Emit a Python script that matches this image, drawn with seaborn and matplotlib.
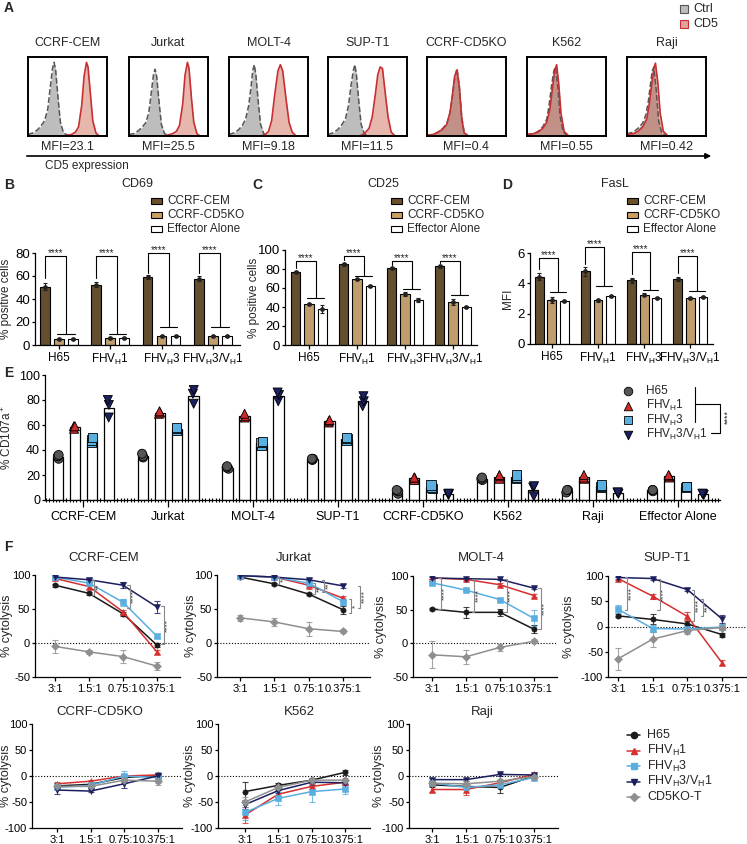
import matplotlib
matplotlib.use("Agg")
import matplotlib.pyplot as plt
from matplotlib.patches import Rectangle
from matplotlib.ticker import MultipleLocator
import seaborn as sns
import numpy as np
import pandas as pd

# ---------------- A: CD5 histograms ----------------
hist_cells = ["CCRF-CEM", "Jurkat", "MOLT-4", "SUP-T1", "CCRF-CD5KO", "K562", "Raji"]
hist_mfi = ["23.1", "25.5", "9.18", "11.5", "0.4", "0.55", "0.42"]
# traced outlines: x = fraction of box width, y = normalised count
hist_ctrl = {
    "CCRF-CEM": ([0, .06, .12, .17, .21, .25, .28, .31, .33, .35, .38, .41, .45, .52, 1],
                 [.02, .04, .08, .14, .2, .35, .62, .88, .96, .86, .5, .18, .04, 0, 0]),
    "Jurkat": ([0, .06, .12, .17, .21, .25, .28, .31, .33, .35, .38, .41, .45, .52, 1],
               [.02, .03, .07, .12, .17, .3, .55, .8, .87, .78, .45, .15, .03, 0, 0]),
    "MOLT-4": ([0, .06, .12, .17, .21, .25, .28, .3, .32, .34, .37, .4, .44, .5, 1],
               [.02, .04, .08, .14, .22, .4, .65, .85, .93, .8, .45, .15, .03, 0, 0]),
    "SUP-T1": ([0, .06, .12, .17, .22, .26, .29, .32, .34, .36, .39, .42, .46, .52, 1],
               [.02, .04, .08, .14, .22, .4, .65, .85, .93, .8, .45, .15, .03, 0, 0]),
    "CCRF-CD5KO": ([0, .08, .14, .2, .25, .29, .32, .35, .38, .41, .44, .47, .52, 1],
                   [.01, .02, .05, .1, .16, .3, .5, .75, .88, .65, .25, .05, 0, 0]),
    "K562": ([0, .08, .14, .2, .25, .28, .31, .34, .36, .39, .42, .46, .52, 1],
             [.02, .03, .06, .12, .22, .4, .65, .85, .9, .65, .25, .05, 0, 0]),
    "Raji": ([0, .08, .14, .2, .24, .27, .3, .32, .34, .37, .4, .44, .5, 1],
             [.03, .05, .1, .17, .28, .45, .7, .85, .9, .6, .2, .04, 0, 0]),
}
hist_cd5 = {
    "CCRF-CEM": ([0, .45, .55, .6, .64, .68, .71, .74, .76, .79, .82, .86, .9, 1],
                 [0, 0, .02, .05, .12, .4, .78, .96, .9, .55, .2, .04, 0, 0]),
    "Jurkat": ([0, .45, .55, .6, .64, .68, .71, .74, .76, .79, .82, .86, .9, 1],
               [0, 0, .03, .06, .14, .42, .8, .96, .88, .5, .18, .03, 0, 0]),
    "MOLT-4": ([0, .4, .46, .5, .54, .58, .62, .65, .68, .72, .76, .8, .85, 1],
               [0, 0, .02, .06, .2, .55, .85, .93, .85, .5, .18, .05, 0, 0]),
    "SUP-T1": ([0, .4, .46, .52, .56, .6, .63, .66, .69, .72, .76, .8, .85, 1],
               [0, 0, .03, .1, .25, .55, .8, .9, .88, .6, .25, .05, 0, 0]),
    "CCRF-CD5KO": ([0, .08, .14, .2, .25, .29, .32, .35, .38, .41, .44, .47, .52, 1],
                   [.01, .02, .05, .09, .15, .3, .52, .78, .86, .62, .22, .04, 0, 0]),
    "K562": ([0, .08, .14, .2, .25, .29, .32, .35, .375, .4, .43, .47, .53, 1],
             [.02, .03, .05, .1, .18, .35, .6, .85, .93, .7, .3, .06, 0, 0]),
    "Raji": ([0, .08, .14, .2, .25, .28, .31, .34, .36, .39, .42, .46, .52, 1],
             [.02, .03, .06, .12, .22, .4, .65, .88, .95, .7, .3, .06, 0, 0]),
}

# ---------------- B-D: activation markers ----------------
act_constructs = ["H65", "FHVH1", "FHVH3", "FHVH3/VH1"]
act_samples = ["CCRF-CEM", "CCRF-CD5KO", "Effector Alone"]
cd69_cem = [50.6, 52.6, 59.2, 57.8]
cd69_ko = [5.2, 6.4, 7.8, 7.8]
cd69_eff = [4.9, 5.8, 8.1, 8.1]
cd69_cem_sd = [3, 2, 1.5, 2]
cd69_ko_sd = [1, 0.8, 0.8, 0.8]
cd69_eff_sd = [0.8, 0.8, 0.8, 0.8]
cd25_cem = [77, 85, 81, 83]
cd25_ko = [43, 69, 54, 45]
cd25_eff = [38, 62, 47, 40]
cd25_cem_sd = [1, 1.5, 1, 1.5]
cd25_ko_sd = [1, 1, 2, 3]
cd25_eff_sd = [4, 1, 2, 1.5]
fasl_cem = [4.45, 4.8, 4.2, 4.27]
fasl_ko = [2.93, 2.87, 3.25, 3.05]
fasl_eff = [2.85, 3.15, 3.05, 3.1]
fasl_cem_sd = [0.25, 0.3, 0.15, 0.12]
fasl_ko_sd = [0.2, 0.1, 0.08, 0.05]
fasl_eff_sd = [0.05, 0.05, 0.08, 0.05]

# ---------------- E: CD107a degranulation (triplicates) ----------------
e_targets = ["CCRF-CEM", "Jurkat", "MOLT-4", "SUP-T1", "CCRF-CD5KO", "K562", "Raji", "Effector Alone"]
e_constructs = ["H65", "FHVH1", "FHVH3", "FHVH3/VH1"]
cd107_h65 = [[33, 35, 36], [34, 35, 37], [25, 26, 27], [32, 33, 33],
             [5, 7, 8], [16, 17, 18], [6, 8, 8], [7, 8, 8]]
cd107_fhvh1 = [[57, 59, 59], [69, 70, 71], [66, 67, 69], [62, 63, 64],
               [16, 18, 18], [17, 19, 20], [17, 18, 20], [18, 19, 20]]
cd107_fhvh3 = [[46, 48, 50], [56, 57, 58], [44, 46, 47], [48, 49, 50],
               [9, 10, 12], [17, 18, 20], [10, 11, 12], [10, 11, 11]]
cd107_fhvh31 = [[66, 76, 80], [77, 85, 88], [79, 84, 86], [75, 79, 83],
                [4, 5, 5], [3, 10, 11], [5, 6, 6], [4, 5, 5]]

# ---------------- F: cytotoxicity ----------------
ratios = ["3:1", "1.5:1", "0.75:1", "0.375:1"]
f_constructs = ["H65", "FHVH1", "FHVH3", "FHVH3/VH1", "CD5KO-T"]
# rows follow f_constructs, columns follow ratios
cyto_cem = [[85, 73, 43, -3], [95, 83, 46, -13], [97, 88, 60, 10], [97, 93, 85, 53], [-5, -13, -20, -34]]
cyto_cem_sd = [[2, 2, 3, 3], [2, 3, 3, 3], [2, 3, 5, 3], [2, 3, 4, 9], [10, 3, 10, 6]]
cyto_jurkat = [[97, 87, 72, 49], [99, 97, 85, 66], [99, 97, 88, 61], [99, 97, 93, 84], [37, 31, 21, 17]]
cyto_jurkat_sd = [[1, 1, 2, 6], [1, 2, 5, 3], [1, 2, 3, 5], [1, 2, 3, 3], [4, 6, 10, 3]]
cyto_molt4 = [[51, 46, 46, 21], [97, 95, 87, 71], [90, 79, 65, 37], [97, 96, 95, 82], [-17, -20, -6, 3]]
cyto_molt4_sd = [[2, 8, 5, 6], [1, 1, 2, 2], [2, 2, 2, 12], [1, 1, 1, 2], [20, 10, 5, 3]]
cyto_supt1 = [[21, 14, 5, -16], [95, 60, 20, -72], [34, -4, -5, -1], [97, 95, 73, 15], [-64, -25, -8, -2]]
cyto_supt1_sd = [[3, 10, 5, 4], [3, 5, 8, 5], [8, 6, 8, 5], [2, 2, 3, 8], [22, 15, 6, 4]]
cyto_cd5ko = [[-19, -16, -3, 1], [-15, -10, 0, 2], [-22, -18, 0, -3], [-27, -29, -15, 0], [-20, -20, -8, -10]]
cyto_cd5ko_sd = [[5, 3, 5, 3], [3, 3, 3, 3], [4, 3, 10, 10], [8, 2, 8, 5], [5, 3, 5, 8]]
cyto_k562 = [[-30, -18, -8, 7], [-75, -35, -20, -12], [-70, -43, -30, -25], [-55, -28, -12, -13], [-50, -22, -8, -8]]
cyto_k562_sd = [[18, 5, 5, 5], [15, 8, 5, 5], [15, 12, 20, 10], [8, 5, 5, 3], [10, 5, 5, 5]]
cyto_raji = [[-17, -20, -22, 0], [-26, -26, -13, 3], [-13, -22, -17, -3], [-7, -7, 3, 2], [-14, -15, -10, -1]]
cyto_raji_sd = [[3, 5, 10, 2], [5, 10, 5, 2], [3, 3, 5, 3], [3, 2, 3, 2], [3, 5, 5, 2]]

# ---------------- style ----------------
sns.set_theme(style="ticks")
plt.rcParams["font.family"] = ["Liberation Sans", "DejaVu Sans"]
plt.rcParams["mathtext.fontset"] = "custom"
plt.rcParams["mathtext.rm"] = "Liberation Sans"
plt.rcParams["axes.unicode_minus"] = False
plt.rcParams["axes.linewidth"] = 0.9
plt.rcParams["axes.edgecolor"] = "black"
plt.rcParams["xtick.major.width"] = 0.9
plt.rcParams["ytick.major.width"] = 0.9
plt.rcParams["xtick.major.size"] = 3
plt.rcParams["ytick.major.size"] = 2.5
plt.rcParams["xtick.major.pad"] = 2
plt.rcParams["ytick.major.pad"] = 1
plt.rcParams["xtick.color"] = "black"
plt.rcParams["ytick.color"] = "black"

labels_tex = {
    "H65": "H65",
    "FHVH1": r"FHV$_\mathregular{H}$1",
    "FHVH3": r"FHV$_\mathregular{H}$3",
    "FHVH3/VH1": r"FHV$_\mathregular{H}$3/V$_\mathregular{H}$1",
    "CD5KO-T": "CD5KO-T",
}

W, H = 747, 844
fig = plt.figure(figsize=(W / 100, H / 100), dpi=100)


def px_axes(left, top, width, height):
    return fig.add_axes([left / W, 1 - (top + height) / H, width / W, height / H])


def ylabel_at(ax, text, x_center, left, width, size):
    # the label is anchored by its right edge, about half a line right of its centre
    ax.set_ylabel(text, fontsize=size)
    ax.yaxis.set_label_coords((x_center + 6 - left) / width, 0.5)


ov = fig.add_axes([0, 0, 1, 1], zorder=10)
ov.set_xlim(0, W)
ov.set_ylim(H, 0)
ov.axis("off")

# panel letters
for letter, (x, y) in {"A": (4, 8), "B": (4, 185), "C": (252, 185), "D": (502, 185),
                       "E": (4, 373), "F": (4, 547)}.items():
    ov.text(x, y, letter, fontsize=10, fontweight="bold", ha="left", va="center")

# ---------------- A ----------------
hist_left = [28, 129, 229, 328, 427, 527, 627]
for cell, mfi, left in zip(hist_cells, hist_mfi, hist_left):
    ax = px_axes(left, 57, 79, 79)
    cx, cy = hist_ctrl[cell]
    kx, ky = hist_cd5[cell]
    ax.fill_between(cx, cy, color="#bdbdbd", lw=0)
    sns.lineplot(x=cx, y=cy, ax=ax, color="#555555", lw=1.1, linestyle="--", sort=False)
    ax.fill_between(kx, ky, color="#c8553f", alpha=0.42, lw=0)
    sns.lineplot(x=kx, y=ky, ax=ax, color="#c62f33", lw=1.2, sort=False)
    ax.set_xlim(0, 1)
    ax.set_ylim(0, 1.03)
    ax.set_xticks([])
    ax.set_yticks([])
    ax.set_xlabel("")
    ax.set_ylabel("")
    for s in ax.spines.values():
        s.set_visible(True)
        s.set_linewidth(1.4)
    ov.text(left + 39.5, 43, cell, ha="center", va="center", fontsize=9)
    ov.text(left + 39.5, 147, f"MFI={mfi}", ha="center", va="center", fontsize=9)

ov.annotate("", xy=(714, 156), xytext=(24, 156),
            arrowprops=dict(arrowstyle="-|>", color="black", lw=1.2, mutation_scale=8))
ov.text(45, 166, "CD5 expression", fontsize=8.5, ha="left", va="center")
ov.add_patch(Rectangle((680, 5), 8, 8, facecolor="#bdbdbd", edgecolor="#555555", lw=0.8))
ov.add_patch(Rectangle((680, 20), 8, 8, facecolor="#e0a49a", edgecolor="#c62f33", lw=0.8))
ov.text(693, 9, "Ctrl", fontsize=9, va="center")
ov.text(693, 24, "CD5", fontsize=9, va="center")

# ---------------- B-D ----------------
act_palette = {"CCRF-CEM": "#6b5028", "CCRF-CD5KO": "#cd9f5f", "Effector Alone": "white"}


def draw_activation(ax, series, sds, brk_top, brk_left, brk_right):
    rows = []
    for samp, vals in zip(act_samples, series):
        for c, v in zip(act_constructs, vals):
            rows.append({"construct": c, "sample": samp, "value": v})
    df = pd.DataFrame(rows)
    sns.barplot(data=df, x="construct", y="value", hue="sample", order=act_constructs,
                hue_order=act_samples, palette=act_palette, errorbar=None, width=0.82, gap=0.3,
                edgecolor="black", linewidth=0.8, legend=False, ax=ax)
    for cont, samp_sd in zip(ax.containers, sds):
        for bar in cont:
            xc = bar.get_x() + bar.get_width() / 2
            i = int(round(xc))
            ax.errorbar(xc, bar.get_height(), yerr=samp_sd[i], fmt="o", ms=2.4, color="#222222",
                        elinewidth=0.8, capsize=1.5, capthick=0.8, zorder=3)
    off = 0.82 / 3
    for i in range(len(act_constructs)):
        xb, xm = i - off, i + off / 2
        ax.plot([xb, xb, xm, xm], [brk_left[i], brk_top[i], brk_top[i], brk_right[i]],
                color="black", lw=0.8, clip_on=False)
        ax.plot([xm - 0.17, xm + 0.17], [brk_right[i], brk_right[i]], color="black", lw=0.8,
                clip_on=False)
        ax.annotate("****", xy=((xb + xm) / 2, brk_top[i]), xytext=(0, -1.5),
                    textcoords="offset points", ha="center", va="bottom", fontsize=7,
                    annotation_clip=False)
    ax.set_xticks(range(len(act_constructs)))
    ax.set_xticklabels([labels_tex[c] for c in act_constructs], fontsize=8.5)
    ax.tick_params(axis="y", labelsize=9.5)
    ax.set_xlabel("")
    sns.despine(ax=ax)


act_specs = [
    # title, left, top, width, height, xlim, ylim, yticks, ylabel, label x, title x, legend x
    ("CD69", 35, 253, 205, 92, (-0.47, 3.53), (0, 80), [0, 20, 40, 60, 80], "% positive cells", 6, 137, 151,
     (cd69_cem, cd69_ko, cd69_eff), (cd69_cem_sd, cd69_ko_sd, cd69_eff_sd),
     [77.5, 77.5, 80.3, 80.3], [58, 58, 63, 63], [9.5, 10, 15.3, 15.3]),
    ("CD25", 285, 250, 192, 95, (-0.5, 3.5), (0, 100), [0, 20, 40, 60, 80, 100], "% positive cells", 254, 383, 391,
     (cd25_cem, cd25_ko, cd25_eff), (cd25_cem_sd, cd25_ko_sd, cd25_eff_sd),
     [88, 94, 88, 88], [81, 89.5, 84, 86], [50, 73, 59, 53]),
    ("FasL", 530, 253, 183, 91, (-0.47, 3.49), (0, 6), [0, 2, 4, 6], "MFI", 508, 615, 627,
     (fasl_cem, fasl_ko, fasl_eff), (fasl_cem_sd, fasl_ko_sd, fasl_eff_sd),
     [5.67, 6.4, 6.05, 5.8], [4.95, 5.3, 4.6, 4.65], [3.4, 3.8, 3.55, 3.5]),
]
for (title, left, top, width, height, xlim, ylim, yticks, ylab, lab_x, title_x, leg_x,
     series, sds, b_top, b_left, b_right) in act_specs:
    ax = px_axes(left, top, width, height)
    draw_activation(ax, series, sds, b_top, b_left, b_right)
    ax.set_xlim(*xlim)
    ax.set_ylim(*ylim)
    ax.set_yticks(yticks)
    ylabel_at(ax, ylab, lab_x, left, width, 8.5)
    ov.text(title_x, 184, title, fontsize=9, ha="center", va="center")
    for k, samp in enumerate(act_samples):
        y = 201 + 14 * k
        ov.add_patch(Rectangle((leg_x, y - 3), 11, 6, facecolor=act_palette[samp],
                               edgecolor="black", lw=0.8))
        ov.text(leg_x + 16, y, samp, fontsize=8.5, va="center")

# ---------------- E ----------------
e_colors = {"H65": "#555555", "FHVH1": "#d02a2a", "FHVH3": "#5ab0e0", "FHVH3/VH1": "#1b2060"}
e_markers = {"H65": "o", "FHVH1": "^", "FHVH3": "s", "FHVH3/VH1": "v"}
e_rows = []
for c, reps in zip(e_constructs, [cd107_h65, cd107_fhvh1, cd107_fhvh3, cd107_fhvh31]):
    for t, trip in zip(e_targets, reps):
        for v in trip:
            e_rows.append({"target": t, "construct": c, "value": v})
e_df = pd.DataFrame(e_rows)

ax = px_axes(45, 375, 675, 125)
sns.barplot(data=e_df, x="target", y="value", hue="construct", order=e_targets,
            hue_order=e_constructs, palette={c: "white" for c in e_constructs}, errorbar=None,
            width=0.8, gap=0.4, edgecolor="black", linewidth=0.9, legend=False, ax=ax)
np.random.seed(4)
for c in e_constructs:
    sns.stripplot(data=e_df[e_df["construct"] == c], x="target", y="value", hue="construct",
                  order=e_targets, hue_order=e_constructs, palette=e_colors, dodge=True,
                  jitter=0.045, marker=e_markers[c], size=6.5, edgecolor="black", linewidth=0.6,
                  legend=False, ax=ax, zorder=3)
ax.set_xlim(-0.45, 7.5)
ax.set_ylim(0, 100)
ax.set_yticks([0, 20, 40, 60, 80, 100])
ax.tick_params(axis="y", labelsize=9)
ax.tick_params(axis="x", labelsize=9, length=5, pad=3)
ax.xaxis.set_minor_locator(MultipleLocator(0.04))
ax.tick_params(axis="x", which="minor", direction="inout", length=2.5, width=0.8)
ax.set_xlabel("")
ylabel_at(ax, r"% CD107a$^+$", 8, 45, 675, 8.5)
sns.despine(ax=ax)

# E legend with significance bracket
for k, c in enumerate(e_constructs):
    y = 391 + 14.5 * k
    ov.scatter([628], [y], marker=e_markers[c], s=38, color=e_colors[c], edgecolor="black",
               linewidth=0.6)
    ov.text(646, y, labels_tex[c], fontsize=8.5, va="center")
ov.plot([695, 695], [387, 422], color="black", lw=0.8)
ov.plot([695, 720, 720, 711], [404, 404, 433, 433], color="black", lw=0.8)
ov.text(728, 417, "****", rotation=90, fontsize=6.5, ha="center", va="center")

# ---------------- F ----------------
f_colors = {"H65": "#1a1a1a", "FHVH1": "#d62f2f", "FHVH3": "#5aaee0",
            "FHVH3/VH1": "#1c1f5e", "CD5KO-T": "#8f8f8f"}
f_markers = ["o", "^", "s", "v", "D"]

f_specs = [
    # title, means, sds, left, top, width, height, xlim, ylim, yticks, label x, title x, brackets
    ("CCRF-CEM", cyto_cem, cyto_cem_sd, 35, 575, 145, 102, (-0.59, 3.68), (-50, 100),
     [-50, 0, 50, 100], 7, 104, [(1.15, 71, 93, "**"), (2.2, 51, 85, "****"), (3.2, -2, 54, "****")]),
    ("Jurkat", cyto_jurkat, cyto_jurkat_sd, 217, 575, 153, 102, (-0.67, 3.79), (-50, 100),
     [-50, 0, 50, 100], 191, 294, [(1.15, 87, 97, "*"), (2.2, 72, 88, "**"), (2.45, 75, 93, "**"),
                                   (3.25, 44, 64, "*"), (3.5, 52, 84, "****")]),
    ("MOLT-4", cyto_molt4, cyto_molt4_sd, 413, 576, 144, 101, (-0.56, 3.68), (-50, 100),
     [-50, 0, 50, 100], 381, 481, [(0.25, 51, 97, "****"), (1.25, 46, 95, "****"),
                                   (2.2, 46, 95, "****"), (3.2, 21, 82, "****")]),
    ("SUP-T1", cyto_supt1, cyto_supt1_sd, 608, 576, 139, 101, (-0.29, 3.72), (-100, 100),
     [-100, -50, 0, 50, 100], 569, 667, [(0.27, 33, 98, "****"), (1.2, 33, 95, "****"),
                                         (2.2, 10, 73, "****"), (2.45, 20, 55, "***")]),
    ("CCRF-CD5KO", cyto_cd5ko, cyto_cd5ko_sd, 32, 724, 150, 104, (-0.75, 3.73), (-100, 100),
     [-100, -50, 0, 50, 100], 6, 100, []),
    ("K562", cyto_k562, cyto_k562_sd, 218, 724, 152, 104, (-0.81, 3.75), (-100, 100),
     [-100, -50, 0, 50, 100], 190, 299, []),
    ("Raji", cyto_raji, cyto_raji_sd, 409, 724, 149, 104, (-0.68, 3.71), (-100, 100),
     [-100, -50, 0, 50, 100], 379, 482, []),
]

for (title, means, sds, left, top, width, height, xlim, ylim, yticks, lab_x, title_x,
     brackets) in f_specs:
    ax = px_axes(left, top, width, height)
    rows = []
    for c, vals in zip(f_constructs, means):
        for r, v in zip(ratios, vals):
            rows.append({"ratio": r, "construct": c, "value": v})
    df = pd.DataFrame(rows)
    ax.axhline(0, color="black", lw=0.8, ls=(0, (1, 1.6)), zorder=0)
    for c, vals, sd in zip(f_constructs, means, sds):
        ax.errorbar(np.arange(len(ratios)), vals, yerr=sd, fmt="none", ecolor=f_colors[c],
                    elinewidth=0.8, capsize=2, capthick=0.8, alpha=0.8, zorder=1)
    sns.pointplot(data=df, x="ratio", y="value", hue="construct", order=ratios,
                  hue_order=f_constructs, palette=f_colors, markers=f_markers, linestyles="-",
                  errorbar=None, markersize=3.8, linewidth=1.1, markeredgewidth=0.4,
                  legend=False, ax=ax)
    for (bx, y0, y1, lab) in brackets:
        ax.plot([bx - 0.07, bx, bx, bx - 0.07], [y0, y0, y1, y1], color="#888888", lw=0.8,
                clip_on=False, zorder=4)
        ax.text(bx + 0.13, (y0 + y1) / 2, lab, rotation=90, fontsize=6, ha="center",
                va="center", color="#333333")
    ax.set_xlim(*xlim)
    ax.set_ylim(*ylim)
    ax.set_yticks(yticks)
    ax.tick_params(axis="y", labelsize=8)
    ax.tick_params(axis="x", labelsize=8)
    ax.set_xlabel("")
    ylabel_at(ax, "% cytolysis", lab_x, left, width, 9)
    sns.despine(ax=ax)
    ov.text(title_x, 558 if top < 700 else 712, title, fontsize=9.5, ha="center", va="center")

# F legend
for k, c in enumerate(f_constructs):
    y = 735 + 15.5 * k
    ov.plot([627, 640], [y, y], color=f_colors[c], lw=1.1)
    ov.plot([633.5], [y], marker=f_markers[k], color=f_colors[c], ms=4.5)
    ov.text(647, y, labels_tex[c], fontsize=9, va="center")

fig.savefig("out.png", dpi=100, facecolor="white")
